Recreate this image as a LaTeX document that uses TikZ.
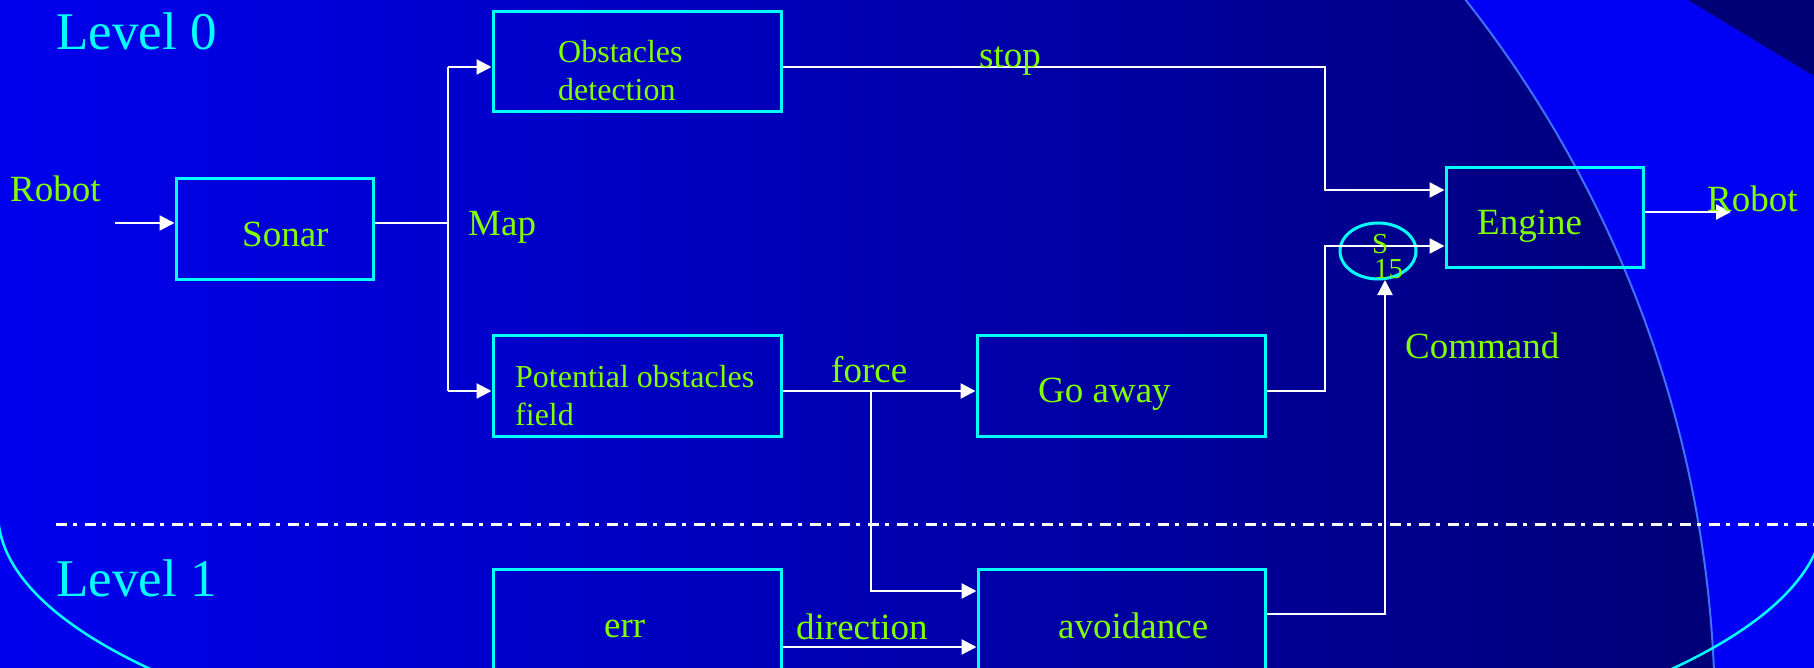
\documentclass[tikz,border=0pt]{standalone}
\usepackage{fontspec}
\setmainfont{Liberation Serif}
\usetikzlibrary{arrows.meta,shapes.geometric}

\definecolor{paneblue}{RGB}{0,0,244}
\definecolor{shadeleft}{RGB}{0,0,238}
\definecolor{shaderight}{RGB}{0,0,118}
\definecolor{cornernavy}{RGB}{0,0,118}
\definecolor{rimblue}{RGB}{64,112,255}
\definecolor{boxcyan}{RGB}{0,255,255}
\definecolor{labelgreen}{RGB}{128,255,0}

\begin{document}
\begin{tikzpicture}[x=1pt,y=-1pt,
  blk/.style={draw=boxcyan, line width=3pt, inner sep=0pt},
  wire/.style={draw=white, line width=2.3pt},
  arr/.style={wire, -{Triangle[length=15pt,width=15pt]}},
  txt/.style={text=labelgreen, anchor=base west, inner sep=0pt,
              font=\fontsize{37}{40}\selectfont},
  small/.style={txt, font=\fontsize{32}{38}\selectfont},
  tiny/.style={txt, font=\fontsize{29}{32}\selectfont},
  lvl/.style={text=boxcyan, anchor=base west, inner sep=0pt,
              font=\fontsize{53}{60}\selectfont}]

\useasboundingbox (0,0) rectangle (1814,668);
\clip (0,0) rectangle (1814,668);

% ---- backdrop ----
\shade[left color=shadeleft, right color=shaderight] (0,0) rectangle (1720,668);
\fill[paneblue, even odd rule] (0,0) rectangle (1814,668) (551,720) circle[radius=1164];
\fill[cornernavy] (1688,0) -- (1814,0) -- (1814,76) -- cycle;
\draw[rimblue, line width=2pt] (551,720) circle[radius=1164];
\draw[boxcyan, line width=2.5pt] (1824,513) arc[start angle=0, end angle=180, x radius=913, y radius=282];

% ---- level divider ----
\coordinate (divL) at (56,524);
\coordinate (divR) at (1814,524);
\draw[white, line width=3pt, dash pattern=on 11pt off 6pt on 4pt off 8pt] (divL) -- (divR);

% ---- blocks ----
\node[blk, minimum width=197, minimum height=100] (sonar)  at (274.5,229) {};
\node[blk, minimum width=288, minimum height=100] (obst)   at (637,62) {};
\node[blk, minimum width=288, minimum height=101] (pot)    at (637,385.5) {};
\node[blk, minimum width=288, minimum height=101] (goaway) at (1121,385.5) {};
\node[blk, minimum width=197, minimum height=100] (engine) at (1544.5,218) {};
\node[blk, minimum width=288, minimum height=120] (err)    at (637,629) {};
\node[blk, minimum width=287, minimum height=120] (avoid)  at (1121.5,629) {};
\node[blk, ellipse, minimum width=76, minimum height=56] (s15) at (1378,251) {};

% ---- connectors ----
\coordinate (robin)    at (115,223);
\coordinate (split)    at (448,223);
\coordinate (splitTop) at (448,67);
\coordinate (splitBot) at (448,391);
\draw[arr] (robin) -- (sonar.west |- robin);
\draw[wire] (sonar.east |- split) -- (split);
\draw[wire] (splitTop) -- (splitBot);
\draw[arr] (splitTop) -- (obst.west |- splitTop);
\draw[arr] (splitBot) -- (pot.west |- splitBot);

\coordinate (stopBend) at (1325,67);
\coordinate (stopDown) at (1325,190);
\draw[arr] (obst.east |- stopBend) -- (stopBend) -- (stopDown) -- (engine.west |- stopDown);

\coordinate (forceTap)  at (871,391);
\coordinate (forceDown) at (871,591);
\draw[arr] (pot.east |- forceTap) -- (goaway.west |- forceTap);
\draw[arr] (forceTap) -- (forceDown) -- (avoid.west |- forceDown);

\coordinate (gaBend) at (1325,391);
\coordinate (gaUp)   at (1325,246);
\draw[arr] (goaway.east |- gaBend) -- (gaBend) -- (gaUp) -- (engine.west |- gaUp);

\coordinate (cmdBend) at (1385,614);
\coordinate (cmdTip)  at (1385,280);
\draw[arr] (avoid.east |- cmdBend) -- (cmdBend) -- (cmdTip);

\coordinate (dirLvl) at (880,647);
\draw[arr] (err.east |- dirLvl) -- (avoid.west |- dirLvl);

\coordinate (robout) at (1731,212);
\draw[arr] (engine.east |- robout) -- (robout);

% ---- labels ----
\node[lvl] (lv0) at (56,50) {Level 0};
\node[lvl] (lv1) at (56,596) {Level 1};
\node[txt] (robL) at (10,202) {Robot};
\node[txt] (sonarT) at (242,247) {Sonar};
\node[txt] (mapT) at (468,236) {Map};
\node[small] (obT1) at (558,63) {Obstacles};
\node[small] (obT2) at (558,101) {detection};
\node[small] (poT1) at (515,387) {Potential obstacles};
\node[small] (poT2) at (515,425) {field};
\node[txt] (stopT) at (979,68) {stop};
\node[txt] (forceT) at (831,382) {force};
\node[txt] (gaT) at (1038,402) {Go away};
\node[txt] (engT) at (1477,235) {Engine};
\node[txt] (robR) at (1707,212) {Robot};
\node[txt] (cmdT) at (1405,358) {Command};
\node[txt] (dirT) at (796,639) {direction};
\node[txt] (errT) at (604,637) {err};
\node[txt] (avT) at (1058,638) {avoidance};
\node[tiny] (sT) at (1372,254) {S};
\node[tiny] (n15) at (1374,278) {15};
\end{tikzpicture}
\end{document}
